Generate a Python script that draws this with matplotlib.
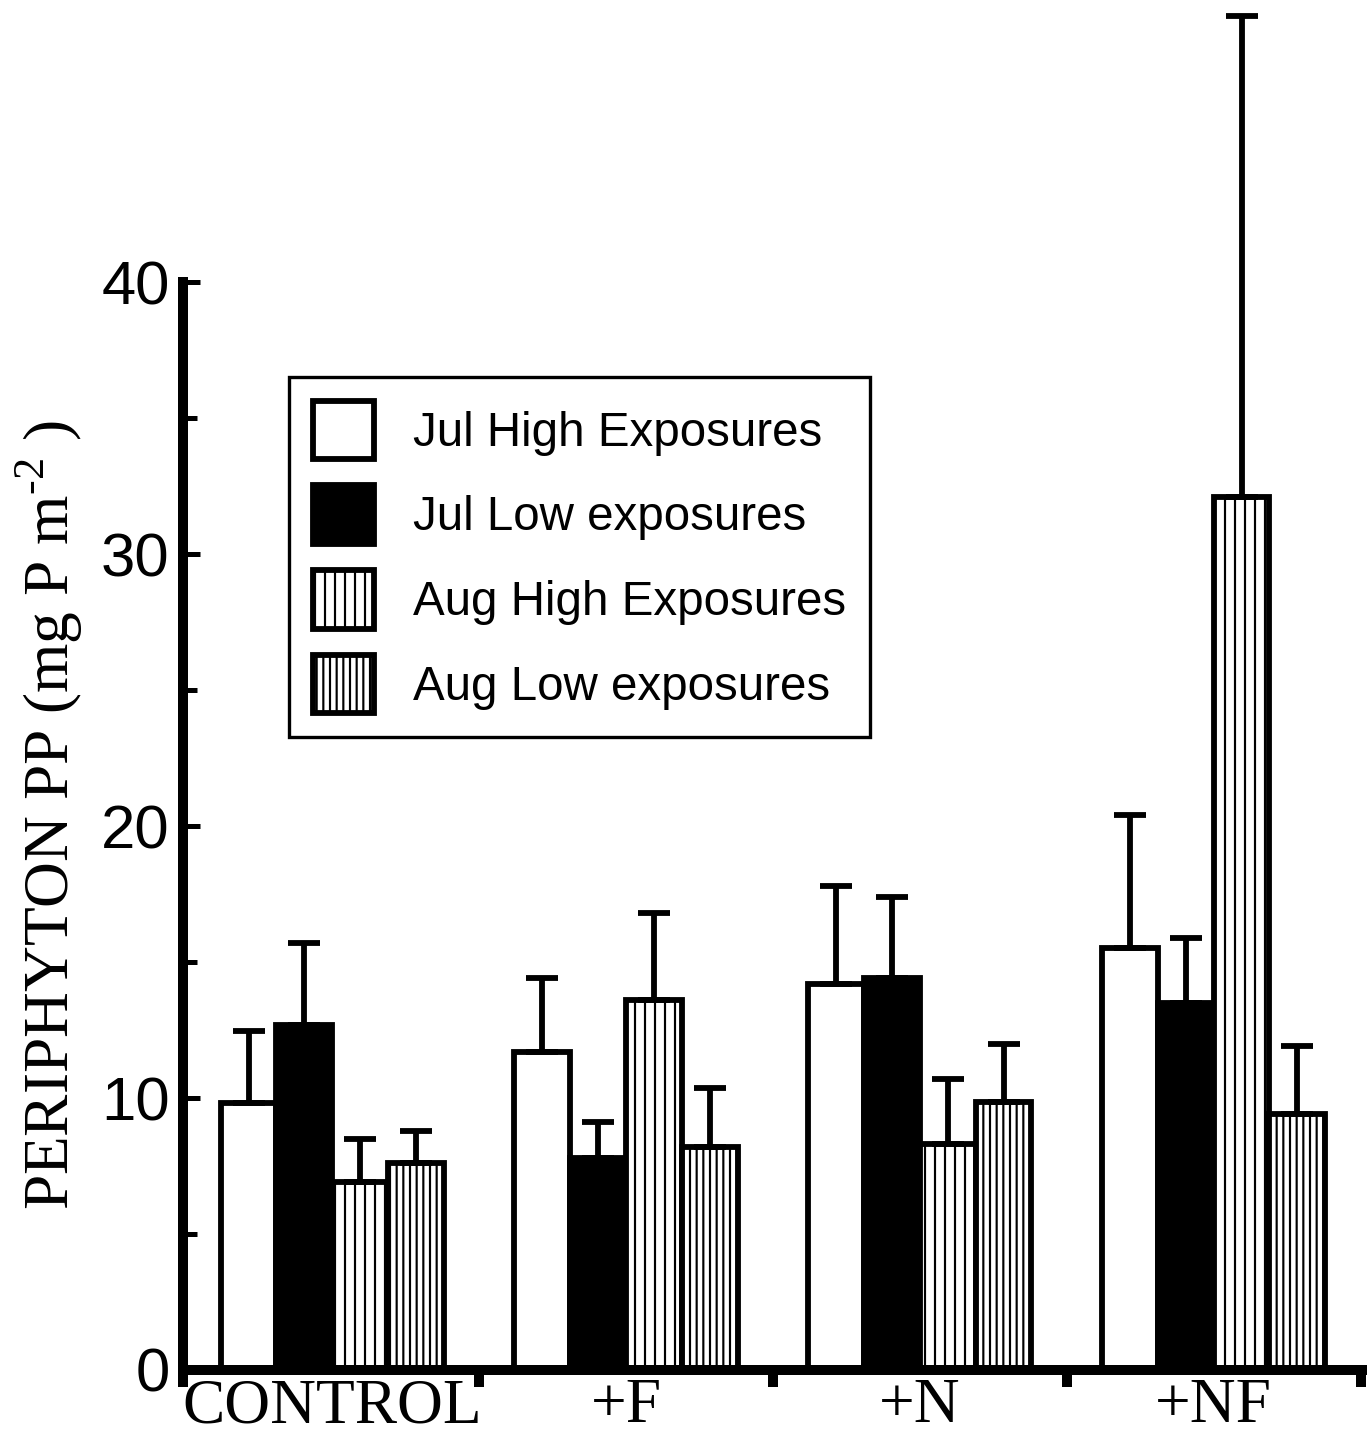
import matplotlib
matplotlib.use("Agg")
import matplotlib.pyplot as plt
import numpy as np

# ---- data ----
groups = ['CONTROL', '+F', '+N', '+NF']
series = ['Jul High Exposures', 'Jul Low exposures', 'Aug High Exposures', 'Aug Low exposures']
jul_high = [9.8, 11.7, 14.2, 15.5]
jul_high_err = [2.65, 2.7, 3.6, 4.9]
jul_low = [12.7, 7.8, 14.4, 13.5]
jul_low_err = [3.0, 1.3, 3.0, 2.4]
aug_high = [6.9, 13.6, 8.3, 32.1]
aug_high_err = [1.6, 3.2, 2.4, 17.7]
aug_low = [7.6, 8.2, 9.85, 9.4]
aug_low_err = [1.2, 2.15, 2.15, 2.5]
y_ticks = [0, 10, 20, 30, 40]
y_minor = [5, 15, 25, 35]

values = [jul_high, jul_low, aug_high, aug_low]
errors = [jul_high_err, jul_low_err, aug_high_err, aug_low_err]
faces = ['white', 'black', 'white', 'white']
hatches = [None, None, '||', '|||']

plt.rcParams['hatch.linewidth'] = 1.3
plt.rcParams['hatch.color'] = 'black'
plt.rcParams['mathtext.fontset'] = 'custom'
plt.rcParams['mathtext.rm'] = 'Liberation Serif'

DPI = 120
fig = plt.figure(figsize=(1372 / DPI, 1439 / DPI), dpi=DPI)
ax = fig.add_axes([183 / 1372, 1 - 1370 / 1439, (1362 - 183) / 1372, 1370 / 1439])

x = np.arange(len(groups))
w = 0.19
for i in range(4):
    pos = x + (i - 1.5) * w
    ax.bar(pos, values[i], width=w, color=faces[i], edgecolor='black',
           linewidth=3.5, hatch=hatches[i], label=series[i], zorder=2)
    ax.errorbar(pos, values[i], yerr=[np.zeros(len(groups)), errors[i]], fmt='none',
                ecolor='black', elinewidth=3.5, capsize=9.5, capthick=3.5, zorder=3)

ax.set_xlim(-0.508, 3.505)
ax.set_ylim(0, 50.37)

for s in ['top', 'right']:
    ax.spines[s].set_visible(False)
ax.spines['left'].set_linewidth(6)
ax.spines['bottom'].set_linewidth(6)
ax.spines['left'].set_bounds(0, 40)

ax.set_yticks(y_ticks)
ax.set_yticks(y_minor, minor=True)
ax.tick_params(axis='y', which='major', direction='in', length=10, width=3, pad=8,
               labelsize=37)
ax.tick_params(axis='y', which='minor', direction='in', length=8.5, width=3)
for lab in ax.get_yticklabels():
    lab.set_fontfamily('Liberation Sans')

ax.set_xticks([-0.508, 0.5, 1.5, 2.5, 3.5])
ax.set_xticklabels([])
ax.tick_params(axis='x', which='major', direction='out', length=10, width=6)
ax.set_xticks(x, minor=True)
ax.set_xticklabels(groups, minor=True, fontfamily='Liberation Serif', fontsize=38)
ax.tick_params(axis='x', which='minor', length=0, pad=5)

ax.set_ylabel('PERIPHYTON PP (mg P m$^{\\text{-2}}$ )', fontfamily='Liberation Serif',
              fontsize=38)
ax.yaxis.set_label_coords(-0.083, 0.405)

leg = ax.legend(loc='upper left', bbox_to_anchor=(0.0899, 0.7248), borderaxespad=0,
                prop={'family': 'Liberation Sans', 'size': 28.5},
                handlelength=1.3, handleheight=1.52, handletextpad=0.82,
                labelspacing=0.55, borderpad=0.5, fancybox=False, framealpha=1)
leg.get_frame().set_edgecolor('black')
leg.get_frame().set_linewidth(2)

fig.savefig('out.png', dpi=DPI)
